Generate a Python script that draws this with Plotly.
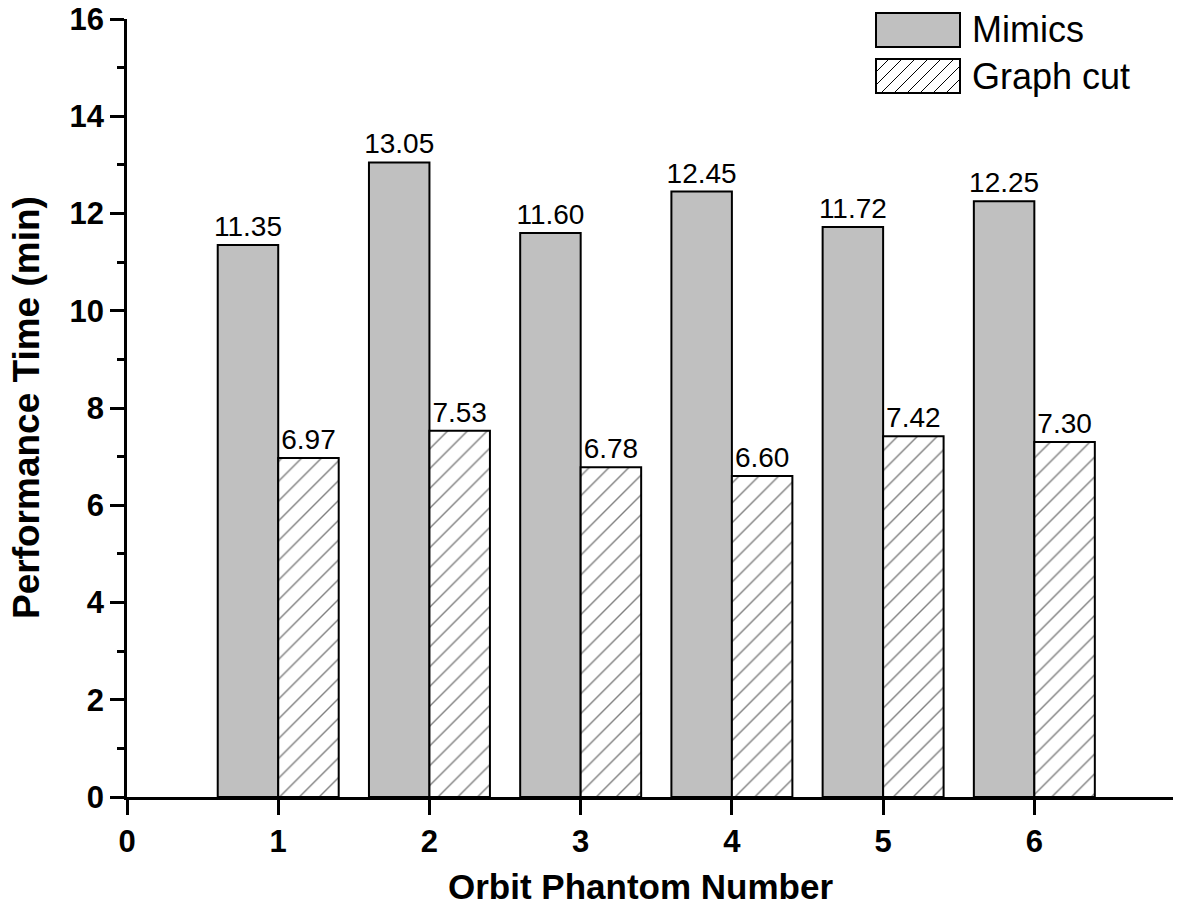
import plotly.graph_objects as go

phantoms = [1, 2, 3, 4, 5, 6]
mimics = [11.35, 13.05, 11.60, 12.45, 11.72, 12.25]
graph_cut = [6.97, 7.53, 6.78, 6.60, 7.42, 7.30]
series_names = ["Mimics", "Graph cut"]

FONT = "Liberation Sans, Arial, sans-serif"

# page body adds 8px, so the figure is a bit smaller than the window
W, H = 1173, 902
L, R, T, B = 119, 3, 11, 113
PW, PH = W - L - R, H - T - B


def px(fx):
    return (fx - L) / PW


def py(fy):
    return 1 - (fy - T) / PH


fig = go.Figure()
fig.add_trace(go.Bar(
    x=phantoms, y=mimics, name=series_names[0],
    marker=dict(color="#c0c0c0", line=dict(color="black", width=2)),
    text=mimics, texttemplate="%{y:.2f}", textposition="outside",
    textfont=dict(family=FONT, size=28, color="black"),
    constraintext="none", cliponaxis=False,
))
fig.add_trace(go.Bar(
    x=phantoms, y=graph_cut, name=series_names[1],
    marker=dict(color="white", line=dict(color="black", width=2),
                pattern=dict(shape="/", fgcolor="black", bgcolor="white",
                             size=14, solidity=0.1)),
    text=graph_cut, texttemplate="%{y:.2f}", textposition="outside",
    textfont=dict(family=FONT, size=28, color="black"),
    constraintext="none", cliponaxis=False,
))

# hand-drawn legend with big swatches like the original
bx0, bx1 = 868, 952
shapes = [
    dict(type="rect", xref="paper", yref="paper", x0=px(bx0), x1=px(bx1),
         y0=py(39), y1=py(5), fillcolor="#c0c0c0", line=dict(color="black", width=2)),
]
hatch = ""
by0, by1 = 51, 85
hh = by1 - by0
k = bx0 - hh
while k < bx1:
    xa, ya = k, by1
    xb, yb = k + hh, by0
    if xa < bx0:
        ya = by1 - (bx0 - xa)
        xa = bx0
    if xb > bx1:
        yb = by0 + (xb - bx1)
        xb = bx1
    if xb > xa:
        hatch += f"M{px(xa)},{py(ya)} L{px(xb)},{py(yb)} "
    k += 13
shapes.append(dict(type="path", xref="paper", yref="paper", path=hatch,
                   line=dict(color="black", width=1)))
shapes.append(dict(type="rect", xref="paper", yref="paper", x0=px(bx0), x1=px(bx1),
                   y0=py(by1), y1=py(by0), line=dict(color="black", width=2)))

annotations = [
    dict(text=series_names[0], xref="paper", yref="paper", x=px(962), y=py(21),
         xanchor="left", yanchor="middle", showarrow=False,
         font=dict(family=FONT, size=36, color="black")),
    dict(text=series_names[1], xref="paper", yref="paper", x=px(962), y=py(68),
         xanchor="left", yanchor="middle", showarrow=False,
         font=dict(family=FONT, size=36, color="black")),
    dict(text="<b>Orbit Phantom Number</b>", xref="paper", yref="paper",
         x=px(632), y=py(879), xanchor="center", yanchor="middle", showarrow=False,
         font=dict(family=FONT, size=35, color="black")),
    dict(text="<b>Performance Time (min)</b>", xref="paper", yref="paper",
         x=px(18), y=py(400), xanchor="center", yanchor="middle", showarrow=False,
         textangle=-90, font=dict(family=FONT, size=37, color="black")),
]

fig.update_layout(
    width=W, height=H,
    margin=dict(l=L, r=R, t=T, b=B),
    paper_bgcolor="white", plot_bgcolor="white",
    barmode="group", bargap=0.2, bargroupgap=0,
    font=dict(family=FONT, color="black"),
    showlegend=False,
    shapes=shapes,
    annotations=annotations,
)

fig.update_xaxes(
    range=[0, 6.95], tickvals=[0, 1, 2, 3, 4, 5, 6],
    showline=True, linecolor="black", linewidth=2.5,
    ticks="outside", ticklen=15, tickwidth=2.5, tickcolor="black",
    showgrid=False, zeroline=False, automargin=False, ticklabeloverflow="allow",
    tickfont=dict(family=FONT, size=31, color="black", weight="bold"),
)
fig.update_yaxes(
    range=[0, 16], dtick=2, tick0=0,
    showline=True, linecolor="black", linewidth=2.5,
    ticks="outside", ticklen=14, tickwidth=2.5, tickcolor="black",
    minor=dict(dtick=1, ticks="outside", ticklen=7, tickwidth=2.5, tickcolor="black"),
    showgrid=False, zeroline=False, automargin=False, ticklabeloverflow="allow",
    tickfont=dict(family=FONT, size=31, color="black", weight="bold"),
)

fig.write_html("out.html")
